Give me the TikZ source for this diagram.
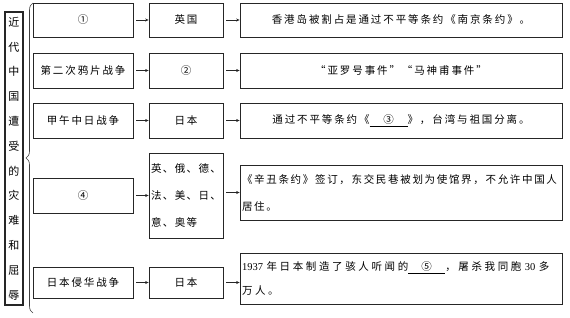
\documentclass[tikz,border=0pt]{standalone}
\usepackage{fontspec}
\newfontfamily\cjk[LetterSpace=18]{Noto Sans CJK SC}
\newfontfamily\cjkt[LetterSpace=13]{Noto Sans CJK SC}
\newfontfamily\cjkf[LetterSpace=16]{Noto Sans CJK SC}
\newfontfamily\cjkw[LetterSpace=25]{Noto Sans CJK SC}
\newfontfamily\cjkn{Noto Sans CJK SC}
\newfontfamily\lat{Liberation Serif}
\usetikzlibrary{arrows.meta,decorations.pathreplacing}
\begin{document}
\begin{tikzpicture}[x=1pt,y=-1pt,
  box/.style={draw=black!85, line width=0.7pt, inner sep=1pt,
    font=\cjk\fontsize{10.5}{27}\selectfont},
  c1box/.style={box, minimum width=100pt},
  c2box/.style={box, minimum width=74pt},
  c3box/.style={box, minimum width=322pt},
  arr/.style={-{Stealth[length=3.5pt,width=3pt]}, line width=0.6pt, draw=black!85, shorten <=3pt}]
\useasboundingbox (0,0) rectangle (570,318);

% left title box
\node[box, minimum width=18pt, minimum height=293pt, line width=1.2pt, align=center,
  font=\cjkn\fontsize{11}{24.8}\selectfont] (L) at (14,158.5)
  {近\\代\\中\\国\\遭\\受\\的\\灾\\难\\和\\屈\\辱};

% brace
\draw[decorate, decoration={brace, amplitude=7pt}, line width=0.6pt, draw=black!75]
  (33,313) -- (33,3);

% column 1
\node[c1box, minimum height=34pt] (a1) at (83,20) {①};
\node[c1box, minimum height=35pt] (a2) at (83,70.5) {第二次鸦片战争};
\node[c1box, minimum height=35pt] (a3) at (83,120.5) {甲午中日战争};
\node[c1box, minimum height=35pt] (a4) at (83,195.5) {④};
\node[c1box, minimum height=31pt] (a5) at (83,282.5) {日本侵华战争};

% column 2
\node[c2box, minimum height=34pt] (b1) at (186,20) {英国};
\node[c2box, minimum height=35pt] (b2) at (186,70.5) {②};
\node[c2box, minimum height=35pt] (b3) at (186,120.5) {日本};
\node[c2box, minimum height=85pt, align=left, font=\cjkt\fontsize{10.5}{27}\selectfont]
  (b4) at (186,195.5) {英、俄、德、\\法、美、日、\\意、奥等};
\node[c2box, minimum height=31pt] (b5) at (186,282.5) {日本};

% column 3
\node[c3box, minimum height=34pt] (c1) at (401,20) {香港岛被割占是通过不平等条约《南京条约》。};
\node[c3box, minimum height=35pt] (c2) at (401,70.5) {“亚罗号事件”“马神甫事件”};
\node[c3box, minimum height=35pt] (c3) at (401,120.5)
  {通过不平等条约《\underline{\makebox[38pt]{③}}》，台湾与祖国分离。};
\node[c3box, minimum height=55pt, text width=318pt, align=left, font=\cjkf\fontsize{10.5}{27}\selectfont]
  (c4) at (401,192.5) {《辛丑条约》签订，东交民巷被划为使馆界，不允许中国人\\居住。};
\node[c3box, minimum height=51pt, text width=318pt, align=left, font=\cjkw\fontsize{10.5}{24}\selectfont]
  (c5) at (401,278.5)
  {{\lat 1937} 年日本制造了骇人听闻的\underline{\makebox[37pt]{⑤}}，屠杀我同胞 {\lat 30} 多\\万人。};

% arrows
\draw[arr] (a1) -- (b1);
\draw[arr] (a2) -- (b2);
\draw[arr] (a3) -- (b3);
\draw[arr] (a4) -- (b4);
\draw[arr] (a5) -- (b5);
\draw[arr] (b1) -- (c1);
\draw[arr] (b2) -- (c2);
\draw[arr] (b3) -- (c3);
\draw[arr] (b4.east |- c4) -- (c4.west);
\draw[arr] (b5) -- (c5.west |- b5);
\end{tikzpicture}
\end{document}
